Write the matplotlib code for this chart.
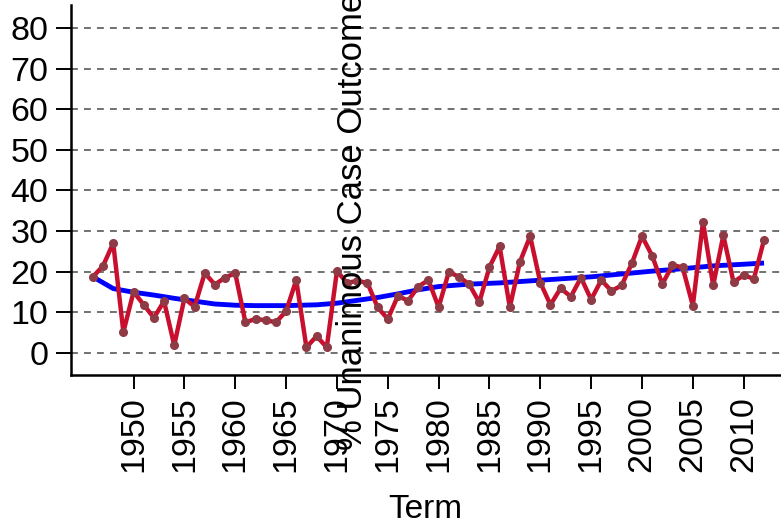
import matplotlib
matplotlib.use("Agg")
import matplotlib.pyplot as plt

# yearly share of unanimous outcomes
terms = list(range(1946, 2013))
unanimous = [18.7, 21.4, 27.0, 5.1, 15.0, 11.8, 8.6, 12.7, 1.8, 13.4,
             11.3, 19.6, 16.8, 18.5, 19.6, 7.5, 8.3, 8.0, 7.5, 10.2,
             17.9, 1.3, 4.1, 1.3, 20.1, 17.2, 17.7, 17.2, 11.2, 8.3,
             14.0, 12.8, 16.3, 17.9, 11.2, 19.9, 18.7, 16.9, 12.4, 21.1,
             26.2, 11.2, 22.4, 28.7, 17.3, 11.8, 15.9, 13.8, 18.5, 13.1,
             17.9, 15.2, 16.6, 22.0, 28.7, 23.9, 16.9, 21.6, 21.0, 11.6,
             32.2, 16.6, 28.9, 17.4, 19.1, 18.2, 27.8]

# smoothed trend
trend_terms = [1946, 1948, 1950, 1952, 1954, 1956, 1958, 1960, 1962, 1965,
               1968, 1970, 1972, 1974, 1976, 1978, 1980, 1983, 1986, 1989,
               1992, 1995, 1998, 2001, 2004, 2007, 2010, 2012]
trend = [18.7, 15.8, 14.9, 14.2, 13.4, 12.7, 12.0, 11.7, 11.6, 11.6,
         11.8, 12.2, 12.9, 13.6, 14.5, 15.5, 16.3, 16.9, 17.2, 17.7,
         18.2, 18.7, 19.4, 20.1, 20.7, 21.4, 21.8, 22.1]

yticks = list(range(0, 90, 10))
xticks = list(range(1950, 2015, 5))


def main():
    plt.rcParams['font.family'] = ['Liberation Sans', 'DejaVu Sans']
    fig = plt.figure(figsize=(7.81, 5.30), dpi=100)
    ax = fig.add_axes([70.5 / 781, 155 / 530, 1 - 70.5 / 781, 370 / 530])

    for y in yticks:
        ax.axhline(y, color='#4a4a4a', lw=1.1, dashes=(4.5, 4), zorder=1)

    ax.plot(trend_terms, trend, color='#0000ff', lw=3.5, zorder=2,
            solid_capstyle='butt')
    ax.plot(terms, unanimous, color='#c8102e', lw=3.2, zorder=3,
            marker='o', markersize=5.5, markerfacecolor='#8e3b46',
            markeredgecolor='#8e3b46')

    ax.set_xlim(1943.8, 2013.67)
    ax.set_ylim(-5.5, 85.7)
    ax.set_yticks(yticks)
    ax.set_xticks(xticks)
    ax.set_xticklabels([str(x) for x in xticks], rotation=90)

    for s in ['top', 'right']:
        ax.spines[s].set_visible(False)
    for s in ['left', 'bottom']:
        ax.spines[s].set_linewidth(1.8)
    ax.tick_params(axis='y', length=11, width=1.4, labelsize=24.5, pad=5)
    ax.tick_params(axis='x', length=10, width=1.4, labelsize=24.5, pad=5)

    ax.set_xlabel('Term', fontsize=24, labelpad=16)
    fig.text(353 / 781, (530 - 221) / 530, '% Unanimous Case Outcome',
             rotation=90, ha='center', va='center', fontsize=25)

    fig.savefig('out.png', dpi=100)


if __name__ == '__main__':
    main()
